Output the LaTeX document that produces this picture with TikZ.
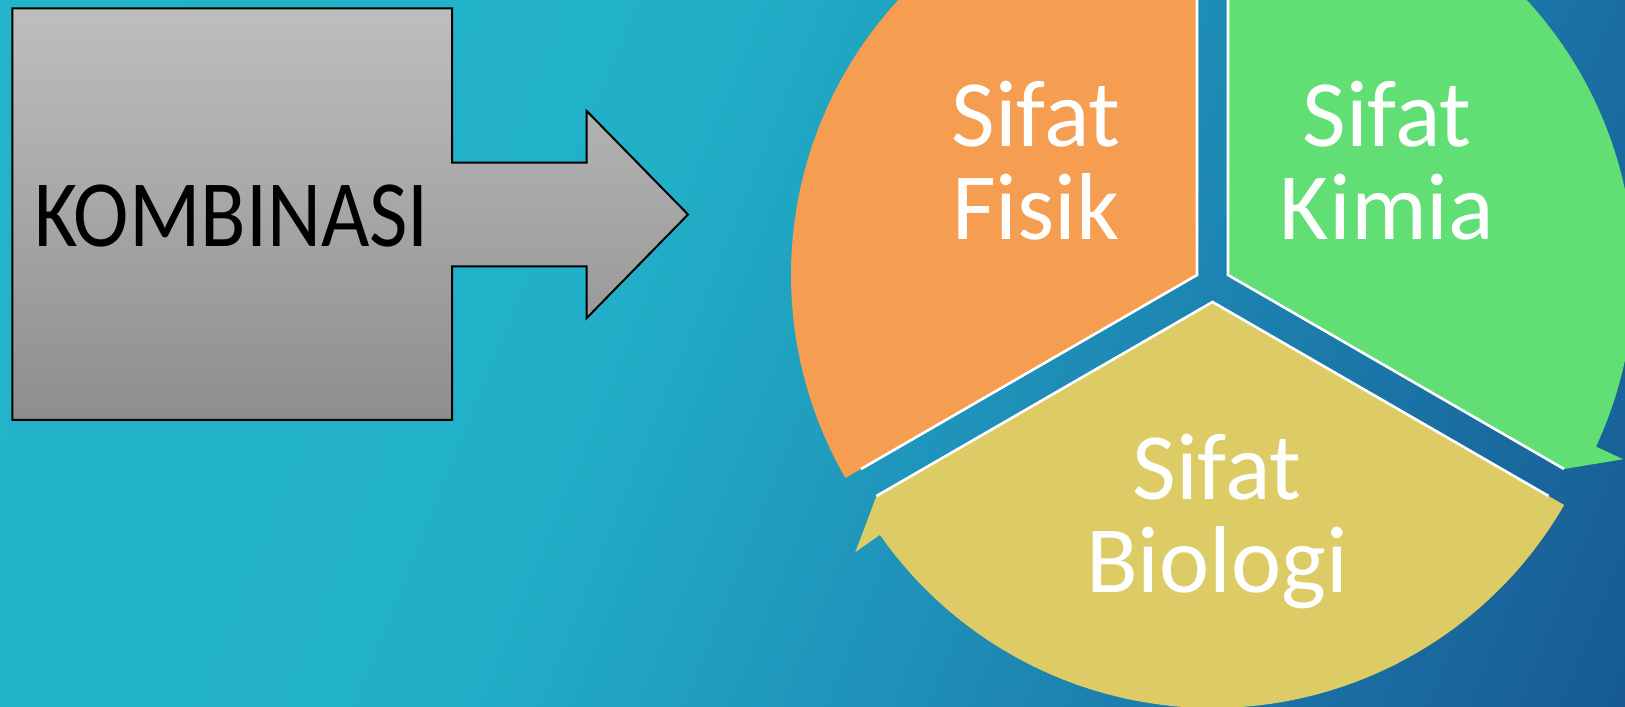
\documentclass[tikz,border=0pt]{standalone}
\usepackage{fontspec}
\setmainfont{Carlito}
\usetikzlibrary{calc}
\definecolor{segorange}{RGB}{245,158,82}
\definecolor{seggreen}{RGB}{98,223,116}
\definecolor{segyellow}{RGB}{221,204,102}
\definecolor{graytop}{RGB}{190,190,190}
\definecolor{graybot}{RGB}{142,142,142}
\pgfdeclarehorizontalshading{bgshade}{100bp}{rgb(0bp)=(0.141,0.722,0.792); rgb(42bp)=(0.13,0.69,0.785); rgb(58bp)=(0.12,0.56,0.72); rgb(74bp)=(0.10,0.42,0.63); rgb(88bp)=(0.085,0.31,0.54); rgb(100bp)=(0.075,0.22,0.45)}
\tikzset{
  segedge/.style={draw=white, line width=1.3pt, line join=miter},
  lab/.style={text=white, font=\fontsize{47.5}{45}\selectfont, inner sep=0pt, anchor=base},
  calloutshape/.style={draw=black, line width=1pt, top color=graytop, bottom color=graybot}
}
\begin{document}
\begin{tikzpicture}[x=0.5pt,y=0.5pt]
\useasboundingbox (0,0) rectangle (1625,706);
\begin{scope}
\clip (0,0) rectangle (1625,706);
\fill[shading=bgshade, shading angle=-22] (0,0) rectangle (1625,706);
\coordinate (O) at (1197,431);
\coordinate (G) at (1228,431);
\coordinate (Y) at (1212.5,404);
% orange segment
\fill[segorange] (O) -- ++(210:406) arc[start angle=210,end angle=95,radius=406] -- ($(O)+(95:436)$) -- ($(O)+(90:388)$) -- cycle;
% green segment
\fill[seggreen] (G) -- ++(90:406) arc[start angle=90,end angle=-25,radius=406] -- ($(G)+(-25:436)$) -- ($(G)+(-30:388)$) -- cycle;
% yellow segment
\fill[segyellow] (Y) -- ++(-30:406) arc[start angle=-30,end angle=-145,radius=406] -- ($(Y)+(-145:436)$) -- ($(Y)+(-150:388)$) -- cycle;
\draw[segedge] ($(O)+(210:388)$) -- (O) -- ($(O)+(90:388)$);
\draw[segedge] ($(G)+(90:388)$) -- (G) -- ($(G)+(-30:388)$);
\draw[segedge] ($(Y)+(-30:388)$) -- (Y) -- ($(Y)+(-150:388)$);
\end{scope}
% callout
\draw[calloutshape] (12.4,697.7) -- (452,697.7) -- (452,543.3) -- (586.6,543.3) -- (586.6,595.1) -- (688,491.5) -- (586.6,387.8) -- (586.6,439.6) -- (452,439.6) -- (452,286) -- (12.4,286) -- cycle;
\node[font=\fontsize{47.5}{45}\selectfont, inner sep=0pt, anchor=base, text=black] (komb) at (231.5,459) {\scalebox{0.88}[1]{KOMBINASI}};
% labels
\node[lab] (fisik) at (1036,559) {\begin{tabular}[t]{@{}c@{}}Sifat\\Fisik\end{tabular}};
\node[lab] (kimia) at (1387,559) {\begin{tabular}[t]{@{}c@{}}Sifat\\Kimia\end{tabular}};
\node[lab] (biologi) at (1217,206) {\begin{tabular}[t]{@{}c@{}}Sifat\\Biologi\end{tabular}};
\end{tikzpicture}
\end{document}
